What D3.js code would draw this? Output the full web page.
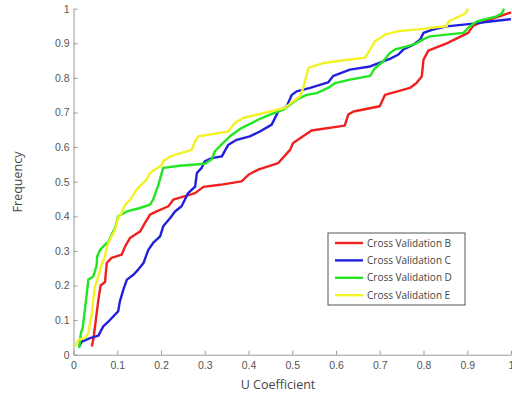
<!DOCTYPE html>
<html>
<head>
<meta charset="utf-8">
<script src="https://cdn.jsdelivr.net/npm/d3@7"></script>
<style>
  body { margin: 0; background: #fff; }
  svg { display: block; font-family: "Open Sans", sans-serif; }
  .axis path, .axis line { stroke: #9a9a9a; }
  .axis text { fill: #555; font-size: 10.5px; }
  .title { fill: #444; font-size: 12.5px; }
  .legText { fill: #444; font-size: 10px; }
</style>
</head>
<body>
<div id="chart"></div>
<script>
// chart size
var width = 512;
var height = 398;

// plot area edges (pixels)
var plotLeft = 73.5, plotRight = 511, plotTop = 8.7, plotBottom = 354.7;

// series names and colours
var names = ["Cross Validation B", "Cross Validation C", "Cross Validation D", "Cross Validation E"];
var colors = ["#ee2020", "#2020dd", "#22e622", "#f2f226"];

// tick values
var xTicks = [0, 0.1, 0.2, 0.3, 0.4, 0.5, 0.6, 0.7, 0.8, 0.9, 1];
var yTicks = [0, 0.1, 0.2, 0.3, 0.4, 0.5, 0.6, 0.7, 0.8, 0.9, 1];

// [U coefficient, frequency]
var cvB = [[0.042,0.024],[0.046,0.05],[0.057,0.16],[0.062,0.2],[0.072,0.21],[0.076,0.265],[0.087,0.28],[0.11,0.289],[0.118,0.313],[0.129,0.337],[0.152,0.356],[0.163,0.38],[0.175,0.405],[0.19,0.414],[0.217,0.429],[0.228,0.448],[0.259,0.46],[0.278,0.467],[0.297,0.485],[0.335,0.491],[0.384,0.501],[0.4,0.52],[0.422,0.535],[0.468,0.554],[0.495,0.592],[0.502,0.612],[0.544,0.648],[0.62,0.662],[0.628,0.694],[0.64,0.703],[0.70,0.718],[0.712,0.751],[0.769,0.771],[0.784,0.785],[0.796,0.804],[0.80,0.853],[0.811,0.879],[0.853,0.9],[0.902,0.93],[0.914,0.951],[0.929,0.959],[1.0,0.989]];

var cvC = [[0.013,0.024],[0.019,0.038],[0.038,0.048],[0.057,0.055],[0.068,0.082],[0.08,0.096],[0.102,0.125],[0.106,0.154],[0.114,0.188],[0.122,0.217],[0.137,0.231],[0.148,0.246],[0.16,0.265],[0.171,0.303],[0.182,0.323],[0.198,0.342],[0.205,0.371],[0.221,0.395],[0.232,0.414],[0.247,0.429],[0.262,0.467],[0.278,0.486],[0.282,0.525],[0.293,0.54],[0.30,0.559],[0.316,0.568],[0.339,0.573],[0.354,0.607],[0.373,0.621],[0.403,0.631],[0.426,0.645],[0.453,0.665],[0.468,0.703],[0.487,0.717],[0.499,0.751],[0.51,0.761],[0.541,0.771],[0.582,0.787],[0.594,0.806],[0.632,0.824],[0.678,0.833],[0.723,0.855],[0.742,0.867],[0.754,0.882],[0.777,0.896],[0.792,0.91],[0.80,0.93],[0.819,0.939],[0.853,0.949],[0.914,0.957],[0.952,0.963],[1.0,0.97]];

var cvD = [[0.013,0.019],[0.017,0.063],[0.021,0.077],[0.026,0.13],[0.03,0.173],[0.034,0.217],[0.045,0.226],[0.049,0.241],[0.053,0.26],[0.054,0.284],[0.061,0.303],[0.072,0.318],[0.08,0.327],[0.087,0.347],[0.095,0.366],[0.102,0.4],[0.122,0.414],[0.152,0.424],[0.175,0.434],[0.182,0.448],[0.19,0.477],[0.194,0.491],[0.205,0.54],[0.243,0.546],[0.30,0.552],[0.316,0.565],[0.323,0.588],[0.342,0.612],[0.362,0.636],[0.384,0.655],[0.422,0.679],[0.449,0.694],[0.48,0.708],[0.51,0.737],[0.533,0.751],[0.556,0.756],[0.582,0.771],[0.598,0.785],[0.632,0.795],[0.678,0.806],[0.689,0.828],[0.708,0.848],[0.723,0.872],[0.735,0.882],[0.762,0.891],[0.784,0.9],[0.80,0.912],[0.815,0.92],[0.891,0.93],[0.906,0.949],[0.922,0.963],[0.967,0.978],[0.979,0.986],[0.984,1.0]];

var cvE = [[0.003,0.024],[0.011,0.043],[0.026,0.048],[0.034,0.063],[0.038,0.092],[0.042,0.12],[0.045,0.159],[0.049,0.197],[0.057,0.226],[0.064,0.26],[0.072,0.284],[0.076,0.313],[0.083,0.332],[0.095,0.361],[0.102,0.395],[0.11,0.41],[0.118,0.434],[0.13,0.448],[0.144,0.477],[0.167,0.506],[0.175,0.525],[0.202,0.549],[0.205,0.559],[0.221,0.573],[0.27,0.592],[0.278,0.617],[0.285,0.631],[0.354,0.645],[0.369,0.67],[0.388,0.684],[0.419,0.694],[0.449,0.703],[0.483,0.713],[0.502,0.732],[0.518,0.747],[0.525,0.771],[0.537,0.829],[0.571,0.843],[0.632,0.853],[0.666,0.858],[0.678,0.882],[0.689,0.906],[0.712,0.925],[0.742,0.935],[0.792,0.941],[0.834,0.947],[0.853,0.949],[0.857,0.963],[0.891,0.983],[0.897,0.988],[0.902,1.0]];

var allSeries = [cvB, cvC, cvD, cvE];

var svg = d3.select("#chart")
  .append("svg")
  .attr("width", width)
  .attr("height", height);

svg.append("rect").attr("width", width).attr("height", height).attr("fill", "#fff");

var xScale = d3.scaleLinear().domain([0, 1]).range([plotLeft, plotRight]);
var yScale = d3.scaleLinear().domain([0, 1]).range([plotBottom, plotTop]);

// axes, ticks point inwards
var xAxis = d3.axisBottom(xScale)
  .tickValues(xTicks)
  .tickFormat(d3.format("~g"))
  .tickSizeInner(-4)
  .tickSizeOuter(0)
  .tickPadding(7);

var yAxis = d3.axisLeft(yScale)
  .tickValues(yTicks)
  .tickFormat(d3.format("~g"))
  .tickSizeInner(-4)
  .tickSizeOuter(0)
  .tickPadding(4);

svg.append("g")
  .attr("class", "axis")
  .attr("transform", "translate(0," + plotBottom + ")")
  .call(xAxis);

svg.append("g")
  .attr("class", "axis")
  .attr("transform", "translate(" + plotLeft + ",0)")
  .call(yAxis);

// lines
var line = d3.line()
  .x(function (d) { return xScale(d[0]); })
  .y(function (d) { return yScale(d[1]); });

svg.selectAll(".cv")
  .data(allSeries)
  .enter()
  .append("path")
  .attr("class", "cv")
  .attr("d", line)
  .attr("fill", "none")
  .attr("stroke", function (d, i) { return colors[i]; })
  .attr("stroke-width", 2.4)
  .attr("stroke-linejoin", "round");

// axis titles
svg.append("text")
  .attr("class", "title")
  .attr("text-anchor", "middle")
  .attr("x", 278)
  .attr("y", 389)
  .text("U Coefficient");

svg.append("text")
  .attr("class", "title")
  .attr("text-anchor", "middle")
  .attr("transform", "translate(22,182)rotate(-90)")
  .text("Frequency");

// legend
var legend = svg.append("g").attr("transform", "translate(328,233)");

legend.append("rect")
  .attr("width", 137)
  .attr("height", 72)
  .attr("fill", "#fff")
  .attr("stroke", "#555")
  .attr("stroke-width", 1);

var items = legend.selectAll(".item")
  .data(names)
  .enter()
  .append("g")
  .attr("class", "item")
  .attr("transform", function (d, i) { return "translate(0," + (10 + i * 17.4) + ")"; });

items.append("line")
  .attr("x1", 7)
  .attr("x2", 35)
  .attr("stroke", function (d, i) { return colors[i]; })
  .attr("stroke-width", 2.4);

items.append("text")
  .attr("class", "legText")
  .attr("x", 39)
  .attr("dy", "0.35em")
  .text(function (d) { return d; });
</script>
</body>
</html>
